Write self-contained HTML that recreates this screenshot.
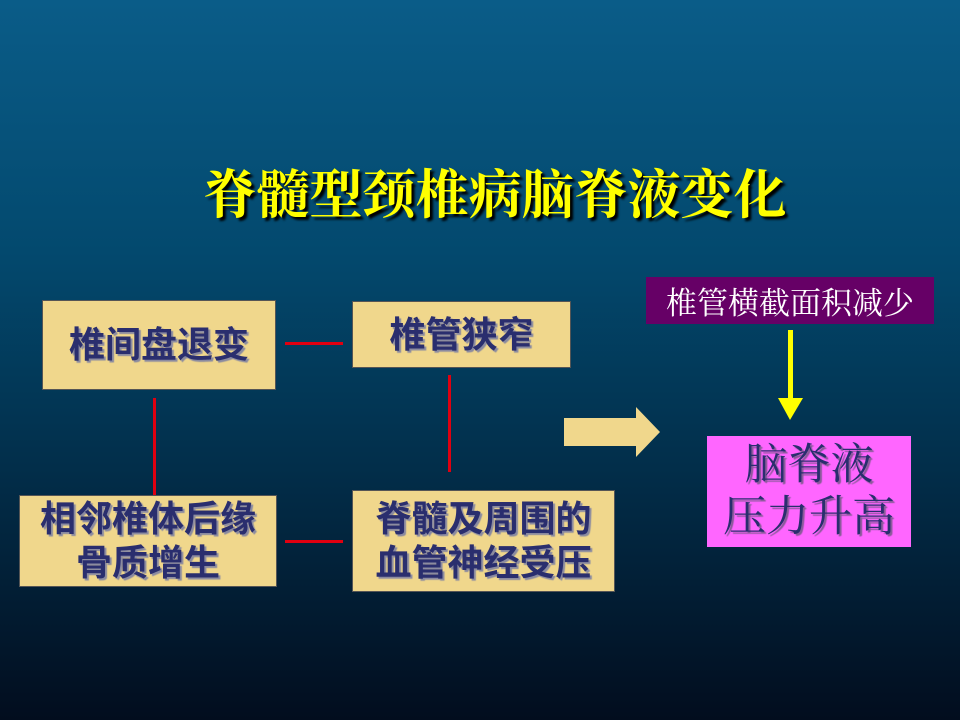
<!DOCTYPE html>
<html><head><meta charset="utf-8"><style>
body{margin:0;width:960px;height:720px;overflow:hidden;background:linear-gradient(180deg,#0a5c88 0%,#03496e 35%,#022e4a 65%,#020d1e 100%);font-family:"Liberation Sans","Noto Sans CJK SC",sans-serif;position:relative}
.a{position:absolute;box-sizing:border-box;display:flex;align-items:center;justify-content:center;text-align:center;white-space:nowrap}
.y{background:#f0d78c;color:#2a2e6e;font-weight:bold;font-size:36px;line-height:44px;text-shadow:2px 2px 1px #8a8aa0;border:1px solid #555}
.r{position:absolute;background:#e00010}
</style></head><body>
<div class="a" style="left:0;width:990px;top:158px;height:66px;color:#ffff00;font-size:53px;font-weight:bold;text-shadow:3px 3px 2px #000;font-family:'Liberation Serif','Noto Serif CJK SC',serif">脊髓型颈椎病脑脊液变化</div>
<div class="a y" style="left:42px;top:300px;width:234px;height:90px">椎间盘退变</div>
<div class="a y" style="left:352px;top:301px;width:219px;height:67px">椎管狭窄</div>
<div class="a y" style="left:19px;top:495px;width:258px;height:92px">相邻椎体后缘<br>骨质增生</div>
<div class="a y" style="left:352px;top:490px;width:263px;height:102px">脊髓及周围的<br>血管神经受压</div>
<div class="r" style="left:285px;top:342px;width:58px;height:3px"></div>
<div class="r" style="left:285px;top:540px;width:58px;height:3px"></div>
<div class="r" style="left:153px;top:398px;width:3px;height:97px"></div>
<div class="r" style="left:448px;top:375px;width:3px;height:97px"></div>
<svg style="position:absolute;left:0;top:0" width="960" height="720">
<polygon points="564,418 636,418 636,407 660,432 636,457 636,446 564,446" fill="#f0d78c"/>
<rect x="788" y="330" width="5" height="70" fill="#ffff00"/>
<polygon points="778,398 803,398 790,420" fill="#ffff00"/>
</svg>
<div class="a" style="left:646px;top:277px;width:288px;height:47px;background:#660066;color:#fff;font-size:31px;font-family:'Liberation Serif','Noto Serif CJK SC',serif">椎管横截面积减少</div>
<div class="a" style="left:707px;top:436px;width:204px;height:111px;background:#ff66ff;color:#2a2e6e;font-size:43px;line-height:52px;text-shadow:2px 2px 1px #8a5a9a;font-family:'Liberation Serif','Noto Serif CJK SC',serif">脑脊液<br>压力升高</div>
</body></html>
